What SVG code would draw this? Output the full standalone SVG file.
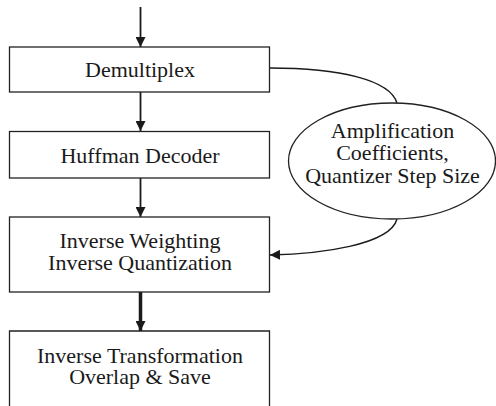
<svg xmlns="http://www.w3.org/2000/svg" width="496" height="406" viewBox="0 0 496 406">
<defs>
<style>
.box{fill:#fff;stroke:#222;stroke-width:1.3}
.t{font-family:"Liberation Serif","Times New Roman",serif;font-size:22px;fill:#1a1a1a;text-anchor:middle}
.c{fill:none;stroke:#1a1a1a;stroke-width:1.8}
</style>
<marker id="ah" viewBox="0 0 10 10" refX="10" refY="5" markerWidth="10" markerHeight="10" markerUnits="userSpaceOnUse" orient="auto">
<path d="M0,0 L10,5 L0,10 z" fill="#1a1a1a"/>
</marker>
</defs>
<g id="connectors">
<line class="c" x1="140.5" y1="7" x2="140.5" y2="47" marker-end="url(#ah)"/>
<line class="c" x1="140.5" y1="92" x2="140.5" y2="131" marker-end="url(#ah)"/>
<line class="c" x1="140.5" y1="178" x2="140.5" y2="217" marker-end="url(#ah)"/>
<line class="c" style="stroke-width:3.5" x1="140.5" y1="292" x2="140.5" y2="331" marker-end="url(#ah)"/>
<path class="c" style="stroke-width:1.4" d="M269.5,68 C340,68 390,80 397,103"/>
<path class="c" style="stroke-width:1.4" d="M397,219 C390,245 320,254 270,255" marker-end="url(#ah)"/>
</g>
<g id="demux">
<rect class="box" x="9.5" y="47" width="260" height="45"/>
<text class="t" x="140" y="77">Demultiplex</text>
</g>
<g id="huffman">
<rect class="box" x="9.5" y="131.5" width="260" height="46.5"/>
<text class="t" x="140" y="163">Huffman Decoder</text>
</g>
<g id="invweight">
<rect class="box" x="9.5" y="217" width="260" height="75"/>
<text class="t" x="140" y="248">Inverse Weighting</text>
<text class="t" x="140" y="270">Inverse Quantization</text>
</g>
<g id="invtrans">
<path class="box" d="M9.5,410 V331 H269.5 V410"/>
<text class="t" x="140" y="363">Inverse Transformation</text>
<text class="t" x="140" y="384">Overlap &amp; Save</text>
</g>
<g id="params">
<ellipse class="box" cx="392" cy="161" rx="103.5" ry="58"/>
<text class="t" x="392.5" y="138">Amplification</text>
<text class="t" x="392.5" y="160">Coefficients,</text>
<text class="t" x="392.5" y="183">Quantizer Step Size</text>
</g>
</svg>
